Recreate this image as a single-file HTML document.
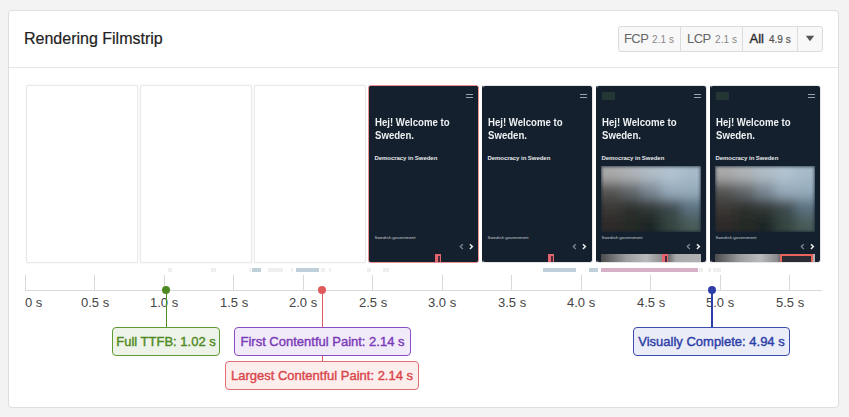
<!DOCTYPE html>
<html><head><meta charset="utf-8">
<style>
*{margin:0;padding:0;box-sizing:border-box}
html,body{width:849px;height:417px;overflow:hidden;background:#f3f3f3;font-family:"Liberation Sans",sans-serif}
.a{position:absolute;white-space:nowrap}
#card{position:absolute;left:8px;top:10px;width:831px;height:398px;background:#fff;border:1px solid #dedede;border-radius:4px}
#title{left:24px;top:29.5px;font-size:16px;color:#222;-webkit-text-stroke:0.2px #222}
#hr{left:9px;top:67px;width:829px;height:1px;background:#e6e6e6}
#btns{left:618px;top:26px;width:205px;height:26px;border:1px solid #dcdcdc;border-radius:3px;background:#f8f8f8}
.sep{position:absolute;top:0;width:1px;height:24px;background:#dcdcdc}
.bt{position:absolute;top:5px;font-size:13px;letter-spacing:-0.6px;color:#666;line-height:14px}
.bs{position:absolute;top:6.5px;letter-spacing:0.1px;font-size:10px;color:#888;line-height:12px}
.frame{position:absolute;top:85px;width:111px;height:178px;border:1px solid #e6e6e6;border-radius:3px;background:#fff;overflow:hidden}
.wf{width:112px;border-color:#e9e9e9;box-shadow:0 0 1.5px rgba(0,0,0,0.12);border-radius:2px}
.dk{position:absolute;left:0;top:0;right:0;bottom:0;background:#14202e;border-radius:1px;overflow:hidden}
.menu{position:absolute;left:98px;top:7.8px;width:7px;height:4.6px;border-top:1.4px solid #98a3ad;border-bottom:1.4px solid #98a3ad}
.h1{position:absolute;left:5.8px;top:30px;font-size:11px;font-weight:bold;color:#eef0f2;line-height:13px;transform:scaleX(0.874);transform-origin:0 0;white-space:nowrap}
.h2{position:absolute;left:5.5px;letter-spacing:-0.05px;top:69px;font-size:6px;font-weight:bold;color:#e4e6e8;white-space:nowrap}
.h3{position:absolute;left:5.5px;top:149.2px;font-size:4.4px;color:#c4c9ce;white-space:nowrap}
.arw{position:absolute;left:90px;top:156.5px}
.arL{position:absolute;left:92px;top:155px;font-size:9px;color:#7d8790}
.arR{position:absolute;left:101px;top:155px;font-size:9px;color:#e8eaec;font-weight:bold}
.rr{position:absolute;left:66px;top:168px;width:5.5px;height:10px;background:#e3646c}
.rr:after{content:"";position:absolute;left:3px;top:2px;width:1.5px;height:8px;background:#4a2a38}
.logo{position:absolute;left:5.5px;top:6px;width:13px;height:7.5px;background:#243734;border-radius:1px;filter:blur(0.5px)}
.img{position:absolute;left:5px;top:80px;width:100px;height:66px;overflow:hidden;background:#2a2e2e}
.img svg{position:absolute;left:0;top:0}
.img:after{content:'';position:absolute;left:0;top:0;right:0;bottom:0;box-shadow:inset 0 0 3px 1px rgba(21,33,47,0.7)}
.strip{position:absolute;left:5px;top:168px;width:100px;height:12px;background:linear-gradient(to right,#4a4c4e 0%,#9a9c9e 25%,#b8babb 45%,#8a8c8e 62%,#606264 66%,#a8aaac 75%,#b0b2b4 100%)}
.rbox{position:absolute;left:70px;top:168px;width:33px;height:12px;border:2px solid #e8645c;background:#2a2b33}
.tick{position:absolute;top:275px;width:1px;height:15px;background:#d9d9d9}
.lbl{position:absolute;top:295px;font-size:13px;color:#444;white-space:nowrap;line-height:15px}
.bar{position:absolute;top:268px;height:4px}
.g{background:#efefef}
.bl{background:#bfd0db}
.pk{background:#d6b0c6}
.mk{position:absolute;top:327px;height:29px;border-radius:4px;border:1px solid;font-size:13px;-webkit-text-stroke:0.4px;white-space:nowrap;text-align:center;line-height:27px}
.dot{position:absolute;top:286px;width:8px;height:8px;border-radius:50%}
.vl{position:absolute;top:290px;width:1.5px}
</style></head><body>
<svg width="0" height="0" style="position:absolute"><defs><filter id="bl" x="-20%" y="-20%" width="140%" height="140%"><feGaussianBlur stdDeviation="6"/></filter></defs></svg>
<div id="card"></div>
<div id="title" class="a">Rendering Filmstrip</div>
<div id="hr" class="a"></div>
<div id="btns" class="a">
  <div class="sep" style="left:61px"></div>
  <div class="sep" style="left:123px"></div>
  <div class="sep" style="left:178px"></div>
  <div class="bt a" style="left:5px">FCP</div><div class="bs a" style="left:33px">2.1 s</div>
  <div class="bt a" style="left:68px">LCP</div><div class="bs a" style="left:96px">2.1 s</div>
  <div class="bt a" style="left:130.5px;letter-spacing:0;color:#2a2a2a;-webkit-text-stroke:0.35px #2a2a2a">All</div><div class="bs a" style="left:150px;letter-spacing:0;color:#555;-webkit-text-stroke:0.2px #555">4.9 s</div>
  <svg class="a" style="left:186px;top:8px" width="10" height="7" viewBox="0 0 10 7"><path d="M0.8 0.8H9.2L5 6.2Z" fill="#555"/></svg>
</div>

<div class="frame wf" style="left:26px"></div>
<div class="frame wf" style="left:140px"></div>
<div class="frame wf" style="left:254px"></div>
<div class="frame" style="left:368px;border-color:#ec9090;background:#14202e"><div class="dk">
  <div class="menu" style="left:97px"></div>
  <div class="h1">Hej! Welcome to<br>Sweden.</div>
  <div class="h2">Democracy in Sweden</div>
  <div class="h3">Swedish government</div>
  <svg class="arw" width="16" height="8" viewBox="0 0 16 8"><path d="M3.8 1.2L1.3 3.6L3.8 6" stroke="#7f8891" stroke-width="1.3" fill="none"/><path d="M10.9 1.2L13.4 3.6L10.9 6" stroke="#e6e8ea" stroke-width="1.5" fill="none"/></svg>
  <div class="rr"></div>
</div></div>
<div class="frame" style="left:482px;border-left-color:#14202e"><div class="dk" style="left:-1px">
  <div class="menu"></div>
  <div class="h1">Hej! Welcome to<br>Sweden.</div>
  <div class="h2">Democracy in Sweden</div>
  <div class="h3">Swedish government</div>
  <svg class="arw" width="16" height="8" viewBox="0 0 16 8"><path d="M3.8 1.2L1.3 3.6L3.8 6" stroke="#7f8891" stroke-width="1.3" fill="none"/><path d="M10.9 1.2L13.4 3.6L10.9 6" stroke="#e6e8ea" stroke-width="1.5" fill="none"/></svg>
  <div class="rr"></div>
</div></div>
<div class="frame" style="left:596px;border-left-color:#14202e"><div class="dk" style="left:-1px">
  <div class="menu"></div>
  <div class="h1">Hej! Welcome to<br>Sweden.</div>
  <div class="h2">Democracy in Sweden</div>
  <div class="h3">Swedish government</div>
  <svg class="arw" width="16" height="8" viewBox="0 0 16 8"><path d="M3.8 1.2L1.3 3.6L3.8 6" stroke="#7f8891" stroke-width="1.3" fill="none"/><path d="M10.9 1.2L13.4 3.6L10.9 6" stroke="#e6e8ea" stroke-width="1.5" fill="none"/></svg>
  <div class="rr"></div>
  <div class="logo"></div><div class="img"><svg width="100" height="66" viewBox="0 0 100 66"><g filter="url(#bl)">
<rect x="-12" y="-12.0" width="32.5" height="29.0" fill="#a9a9a9"/>
<rect x="20" y="-12.0" width="20.5" height="29.0" fill="#aeb3b7"/>
<rect x="40" y="-12.0" width="20.5" height="29.0" fill="#b0bcc6"/>
<rect x="60" y="-12.0" width="20.5" height="29.0" fill="#b1c2d0"/>
<rect x="80" y="-12.0" width="32.5" height="29.0" fill="#a6bac9"/>
<rect x="-12" y="16.5" width="32.5" height="17.0" fill="#555453"/>
<rect x="20" y="16.5" width="20.5" height="17.0" fill="#62686c"/>
<rect x="40" y="16.5" width="20.5" height="17.0" fill="#7b8994"/>
<rect x="60" y="16.5" width="20.5" height="17.0" fill="#98acbc"/>
<rect x="80" y="16.5" width="32.5" height="17.0" fill="#96acbc"/>
<rect x="-12" y="33.0" width="32.5" height="17.0" fill="#3a3836"/>
<rect x="20" y="33.0" width="20.5" height="17.0" fill="#2d302e"/>
<rect x="40" y="33.0" width="20.5" height="17.0" fill="#303836"/>
<rect x="60" y="33.0" width="20.5" height="17.0" fill="#3d4a4e"/>
<rect x="80" y="33.0" width="32.5" height="17.0" fill="#5c7282"/>
<rect x="-12" y="49.5" width="32.5" height="29.0" fill="#2f2b29"/>
<rect x="20" y="49.5" width="20.5" height="29.0" fill="#252927"/>
<rect x="40" y="49.5" width="20.5" height="29.0" fill="#1e2725"/>
<rect x="60" y="49.5" width="20.5" height="29.0" fill="#34443f"/>
<rect x="80" y="49.5" width="32.5" height="29.0" fill="#4a5c59"/>
</g></svg></div><div class="strip"></div><div class="rr" style="left:66px"></div>
</div></div>
<div class="frame" style="left:710px;border-left-color:#14202e"><div class="dk" style="left:-1px">
  <div class="menu"></div>
  <div class="h1">Hej! Welcome to<br>Sweden.</div>
  <div class="h2">Democracy in Sweden</div>
  <div class="h3">Swedish government</div>
  <svg class="arw" width="16" height="8" viewBox="0 0 16 8"><path d="M3.8 1.2L1.3 3.6L3.8 6" stroke="#7f8891" stroke-width="1.3" fill="none"/><path d="M10.9 1.2L13.4 3.6L10.9 6" stroke="#e6e8ea" stroke-width="1.5" fill="none"/></svg>
  <div class="logo"></div><div class="img"><svg width="100" height="66" viewBox="0 0 100 66"><g filter="url(#bl)">
<rect x="-12" y="-12.0" width="32.5" height="29.0" fill="#a9a9a9"/>
<rect x="20" y="-12.0" width="20.5" height="29.0" fill="#aeb3b7"/>
<rect x="40" y="-12.0" width="20.5" height="29.0" fill="#b0bcc6"/>
<rect x="60" y="-12.0" width="20.5" height="29.0" fill="#b1c2d0"/>
<rect x="80" y="-12.0" width="32.5" height="29.0" fill="#a6bac9"/>
<rect x="-12" y="16.5" width="32.5" height="17.0" fill="#555453"/>
<rect x="20" y="16.5" width="20.5" height="17.0" fill="#62686c"/>
<rect x="40" y="16.5" width="20.5" height="17.0" fill="#7b8994"/>
<rect x="60" y="16.5" width="20.5" height="17.0" fill="#98acbc"/>
<rect x="80" y="16.5" width="32.5" height="17.0" fill="#96acbc"/>
<rect x="-12" y="33.0" width="32.5" height="17.0" fill="#3a3836"/>
<rect x="20" y="33.0" width="20.5" height="17.0" fill="#2d302e"/>
<rect x="40" y="33.0" width="20.5" height="17.0" fill="#303836"/>
<rect x="60" y="33.0" width="20.5" height="17.0" fill="#3d4a4e"/>
<rect x="80" y="33.0" width="32.5" height="17.0" fill="#5c7282"/>
<rect x="-12" y="49.5" width="32.5" height="29.0" fill="#2f2b29"/>
<rect x="20" y="49.5" width="20.5" height="29.0" fill="#252927"/>
<rect x="40" y="49.5" width="20.5" height="29.0" fill="#1e2725"/>
<rect x="60" y="49.5" width="20.5" height="29.0" fill="#34443f"/>
<rect x="80" y="49.5" width="32.5" height="29.0" fill="#4a5c59"/>
</g></svg></div><div class="strip"></div><div class="rbox"></div>
</div></div>

<!-- bars -->
<div class="bar g" style="left:168px;width:4px"></div>
<div class="bar g" style="left:211px;width:5px"></div>
<div class="bar g" style="left:249px;width:2px"></div>
<div class="bar bl" style="left:252px;width:9px"></div>
<div class="bar g" style="left:268px;width:15px"></div>
<div class="bar g" style="left:291px;width:2px"></div>
<div class="bar bl" style="left:296px;width:23px"></div>
<div class="bar g" style="left:321px;width:4px"></div>
<div class="bar g" style="left:329px;width:2px"></div>
<div class="bar g" style="left:367px;width:4px"></div>
<div class="bar g" style="left:383px;width:6px"></div>
<div class="bar bl" style="left:543px;width:33px"></div>
<div class="bar bl" style="left:589px;width:9px"></div>
<div class="bar pk" style="left:601px;width:97px"></div>
<div class="bar g" style="left:699px;width:4px"></div>
<div class="bar g" style="left:708px;width:3px"></div>
<div class="bar g" style="left:713px;width:8px"></div>

<!-- axis -->
<div class="a" style="left:25px;top:290px;width:797px;height:1px;background:#d9d9d9"></div>
<div class="tick" style="left:25px"></div>
<div class="tick" style="left:94px"></div>
<div class="tick" style="left:164px"></div>
<div class="tick" style="left:233px"></div>
<div class="tick" style="left:303px"></div>
<div class="tick" style="left:372px"></div>
<div class="tick" style="left:442px"></div>
<div class="tick" style="left:511px"></div>
<div class="tick" style="left:581px"></div>
<div class="tick" style="left:650px"></div>
<div class="tick" style="left:720px"></div>
<div class="tick" style="left:789px"></div>
<div class="lbl" style="left:25px">0 s</div>
<div class="lbl" style="left:81px">0.5 s</div>
<div class="lbl" style="left:150px">1.0 s</div>
<div class="lbl" style="left:220px">1.5 s</div>
<div class="lbl" style="left:289px">2.0 s</div>
<div class="lbl" style="left:359px">2.5 s</div>
<div class="lbl" style="left:428px">3.0 s</div>
<div class="lbl" style="left:498px">3.5 s</div>
<div class="lbl" style="left:567px">4.0 s</div>
<div class="lbl" style="left:637px">4.5 s</div>
<div class="lbl" style="left:706px">5.0 s</div>
<div class="lbl" style="left:776px">5.5 s</div>

<!-- markers -->
<div class="vl" style="left:165.5px;height:37px;background:#4e8a22"></div>
<div class="dot" style="left:162px;background:#4e8a22"></div>
<div class="mk" style="left:112px;width:108px;color:#4e8a22;border-color:#5f9a32;background:#eef3e9">Full TTFB: 1.02 s</div>

<div class="vl" style="left:321.5px;height:72px;background:#df5a5e"></div>
<div class="dot" style="left:318px;background:#df5a5e"></div>
<div class="mk" style="left:234px;width:177px;color:#7b3bb8;border-color:#8c4cc6;background:#f1eaf8">First Contentful Paint: 2.14 s</div>
<div class="mk" style="left:225px;top:361px;width:194px;color:#d9474b;border-color:#e06f72;background:#fdeeee">Largest Contentful Paint: 2.14 s</div>

<div class="vl" style="left:711px;height:37px;background:#2d3ea8"></div>
<div class="dot" style="left:708px;background:#2d3ea8"></div>
<div class="mk" style="left:633px;width:157px;color:#2d3ea8;border-color:#3a4cb0;background:#eaecf8">Visually Complete: 4.94 s</div>

</body></html>
